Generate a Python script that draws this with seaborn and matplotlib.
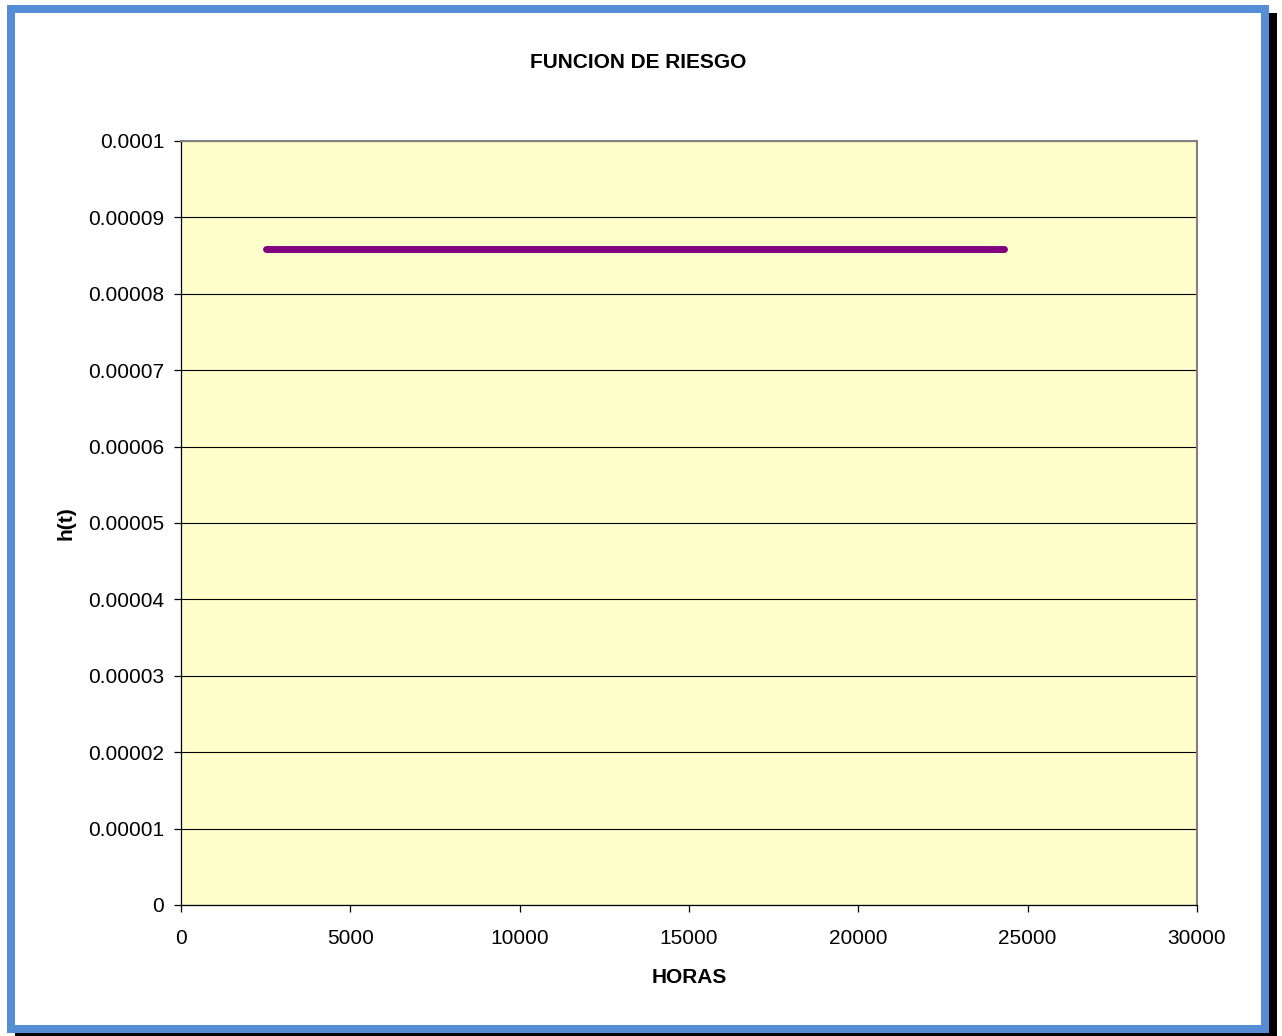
import matplotlib
matplotlib.use("Agg")
import matplotlib.pyplot as plt
from matplotlib.patches import Rectangle
from matplotlib.ticker import FixedLocator, FixedFormatter
import seaborn as sns
import pandas as pd

# Hazard function h(t) of an exponential model: constant failure rate
hours = [2500, 24300]
hazard = [0.0000859, 0.0000859]

x_ticks = [0, 5000, 10000, 15000, 20000, 25000, 30000]
x_tick_labels = ["0", "5000", "10000", "15000", "20000", "25000", "30000"]
y_ticks = [0, 0.00001, 0.00002, 0.00003, 0.00004, 0.00005, 0.00006,
           0.00007, 0.00008, 0.00009, 0.0001]
y_tick_labels = ["0", "0.00001", "0.00002", "0.00003", "0.00004", "0.00005",
                 "0.00006", "0.00007", "0.00008", "0.00009", "0.0001"]

df = pd.DataFrame({"HORAS": hours, "h(t)": hazard})

sns.set_theme(style="white")
plt.rcParams["font.family"] = ["Liberation Sans", "DejaVu Sans"]

W, H = 1282, 1036
fig = plt.figure(figsize=(W / 100, H / 100), dpi=100)
fig.patch.set_facecolor("white")


def px_rect(x0, y0, x1, y1, color, z):
    fig.patches.append(Rectangle((x0 / W, 1 - y1 / H), (x1 - x0) / W, (y1 - y0) / H,
                                 transform=fig.transFigure, facecolor=color,
                                 edgecolor="none", zorder=z))


# Framed chart area with drop shadow
px_rect(15, 13, 1277, 1045, "black", -3)
px_rect(7, 5, 1269, 1033, "#558ED5", -2)
px_rect(15, 13, 1261, 1025, "white", -1)

ax = fig.add_axes([181 / W, 1 - 905 / H, 1016 / W, 764 / H])
ax.set_facecolor("#FFFFCC")

sns.lineplot(data=df, x="HORAS", y="h(t)", ax=ax, color="#800080",
             linewidth=5.0, solid_capstyle="round", zorder=3)

ax.set_xlim(0, 30000)
ax.set_ylim(0, 0.0001)
ax.xaxis.set_major_locator(FixedLocator(x_ticks))
ax.xaxis.set_major_formatter(FixedFormatter(x_tick_labels))
ax.yaxis.set_major_locator(FixedLocator(y_ticks))
ax.yaxis.set_major_formatter(FixedFormatter(y_tick_labels))

ax.grid(axis="y", color="black", linewidth=0.8, zorder=1)
ax.grid(axis="x", visible=False)
ax.set_axisbelow(True)

for side in ["top", "right"]:
    ax.spines[side].set_color("#808080")
    ax.spines[side].set_linewidth(1.5)
for side in ["left", "bottom"]:
    ax.spines[side].set_color("black")
    ax.spines[side].set_linewidth(0.9)

ax.tick_params(axis="both", which="major", direction="out", length=5, width=0.9,
               color="black", labelsize=15, labelcolor="black")
ax.tick_params(axis="y", pad=7)
ax.tick_params(axis="x", pad=12)
ax.tick_params(left=True, bottom=True)

ax.set_xlabel("HORAS", fontsize=15, fontweight="bold", labelpad=15, color="black")
ax.set_ylabel("h(t)", fontsize=15, fontweight="bold", labelpad=9, color="black")
fig.text(638 / W, 1 - 62 / H, "FUNCION DE RIESGO", ha="center", va="center",
         fontsize=15, fontweight="bold", color="black")

fig.savefig("out.png", dpi=100, facecolor=fig.get_facecolor())
